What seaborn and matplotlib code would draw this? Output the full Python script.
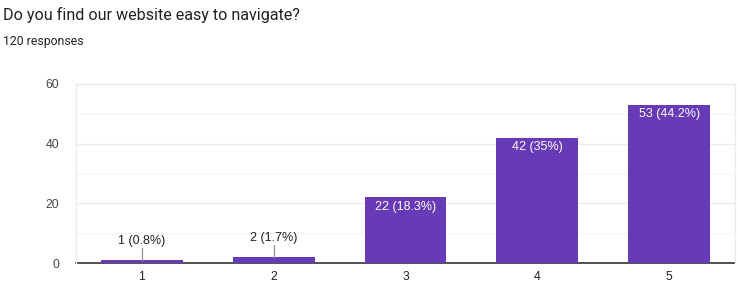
import matplotlib
matplotlib.use("Agg")
import matplotlib.pyplot as plt
import seaborn as sns
import pandas as pd

categories = ["1", "2", "3", "4", "5"]
counts = [1, 2, 22, 42, 53]
percent_labels = ["0.8%", "1.7%", "18.3%", "35%", "44.2%"]
y_ticks = [0, 20, 40, 60]
title = "Do you find our website easy to navigate?"
subtitle = "120 responses"

df = pd.DataFrame({"cat": categories, "count": counts})

sns.set_theme(style="white")
plt.rcParams["font.family"] = ["Liberation Sans", "DejaVu Sans"]

fig = plt.figure(figsize=(7.38, 2.98), dpi=100)
ax = fig.add_axes([76 / 738, 1 - 263 / 298, 659 / 738, 179 / 298])

sns.barplot(data=df, x="cat", y="count", color="#673ab7", saturation=1,
            width=0.62, ax=ax, zorder=3, linewidth=0, edgecolor="none")

ax.set_ylim(0, 60)
ax.set_xlim(-0.5, 4.5)
ax.set_yticks(y_ticks)
ax.set_yticks([10, 30, 50], minor=True)
ax.grid(axis="y", which="major", color="#ebebeb", linewidth=1, zorder=0)
ax.grid(axis="y", which="minor", color="#f4f4f4", linewidth=1, zorder=0)
ax.tick_params(axis="y", which="both", length=0, labelsize=8.8, labelcolor="#444444", pad=12)
ax.tick_params(axis="x", length=0, labelsize=8.8, labelcolor="#222222", pad=6)
ax.set_xlabel("")
ax.set_ylabel("")
for side in ["left", "top", "right"]:
    ax.spines[side].set_color("#ebebeb")
    ax.spines[side].set_linewidth(1)
ax.spines["bottom"].set_color("#333333")
ax.spines["bottom"].set_linewidth(1.2)
ax.spines["bottom"].set_zorder(2)

for i, (c, p) in enumerate(zip(counts, percent_labels)):
    label = f"{c} ({p})"
    if c < 10:
        ax.plot([i, i], [c, c + 4.0], color="#999999", linewidth=1, zorder=4)
        ax.text(i, c + 4.3, label, ha="center", va="bottom", fontsize=9, color="#222222")
    else:
        ax.text(i, c - 1.2, label, ha="center", va="top", fontsize=9, color="white", zorder=5)

fig.text(3 / 738, 1 - 15 / 298, title, ha="left", va="center", fontsize=11.6,
         family=["Roboto", "DejaVu Sans"], color="#202124")
fig.text(3 / 738, 1 - 42 / 298, subtitle, ha="left", va="center", fontsize=8.8,
         family=["Roboto", "DejaVu Sans"], color="#202124")

fig.savefig("out.png", dpi=100)
